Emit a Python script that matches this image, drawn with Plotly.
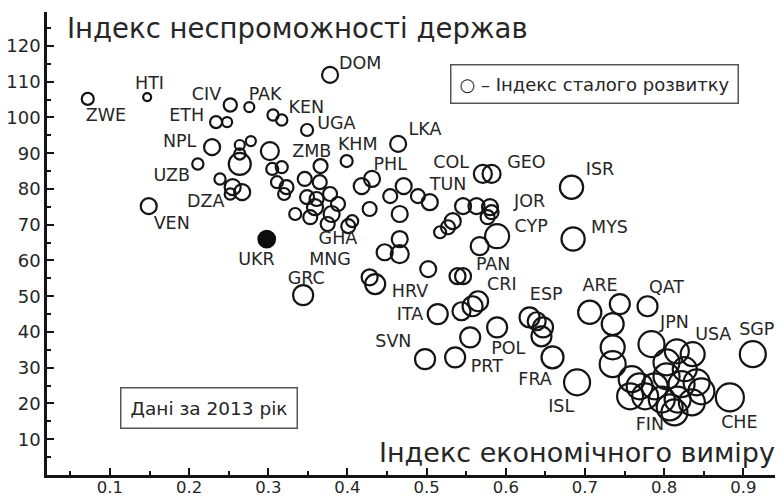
import plotly.graph_objects as go

# Economic dimension index (x), fragile states index (y), sustainable development index (bubble)
econ = [0.072, 0.147, 0.252, 0.276, 0.234, 0.248, 0.306, 0.317, 0.349, 0.378,
        0.229, 0.264, 0.278, 0.302, 0.211, 0.264, 0.264, 0.239, 0.255, 0.267,
        0.252, 0.149, 0.344, 0.305, 0.317, 0.311, 0.323, 0.320, 0.346, 0.366,
        0.365, 0.399, 0.349, 0.361, 0.378, 0.388, 0.359, 0.334, 0.353, 0.380,
        0.375, 0.401, 0.406, 0.418, 0.431, 0.428, 0.464, 0.454, 0.471, 0.489,
        0.504, 0.466, 0.571, 0.582, 0.683, 0.546, 0.563, 0.580, 0.582, 0.577,
        0.533, 0.527, 0.517, 0.589, 0.567, 0.685, 0.502, 0.466, 0.466, 0.447,
        0.539, 0.546, 0.428, 0.435, 0.565, 0.558, 0.544, 0.514, 0.589, 0.555,
        0.498, 0.536, 0.630, 0.639, 0.647, 0.645, 0.659, 0.690, 0.706, 0.744,
        0.779, 0.735, 0.735, 0.735, 0.784, 0.816, 0.836, 0.912, 0.883, 0.759,
        0.769, 0.757, 0.776, 0.803, 0.803, 0.826, 0.841, 0.847, 0.822, 0.817,
        0.807, 0.797, 0.788, 0.835, 0.813]
fragility = [105.2, 105.7, 103.5, 102.9, 98.7, 98.7, 100.7, 99.3, 96.5, 111.9,
             91.7, 92.3, 93.4, 90.6, 87.0, 87.0, 89.8, 82.8, 80.5, 79.1,
             78.6, 75.2, 50.3, 85.6, 86.1, 81.9, 80.5, 78.6, 82.8, 86.4,
             81.9, 87.8, 77.7, 77.2, 78.6, 75.8, 74.9, 73.0, 72.1, 73.0,
             70.2, 69.6, 71.0, 80.8, 82.8, 74.4, 92.6, 78.0, 80.8, 78.0,
             76.3, 73.0, 84.2, 84.2, 80.5, 75.2, 75.2, 74.9, 73.5, 72.1,
             71.0, 69.3, 67.9, 66.8, 64.0, 66.0, 57.6, 66.0, 61.8, 62.3,
             55.6, 55.6, 55.3, 53.4, 48.6, 47.2, 45.8, 45.0, 41.3, 38.5,
             32.4, 32.9, 44.1, 43.0, 41.3, 38.8, 32.9, 25.9, 45.5, 47.8,
             47.2, 42.2, 35.7, 31.0, 36.6, 34.6, 33.8, 33.8, 21.7, 26.8,
             24.8, 22.0, 22.0, 31.5, 27.6, 29.6, 25.9, 23.4, 25.4, 21.1,
             18.9, 21.1, 24.8, 20.3, 17.5]
sdi = [0.35, 0.25, 0.38, 0.30, 0.35, 0.30, 0.33, 0.33, 0.35, 0.45,
       0.45, 0.30, 0.30, 0.50, 0.33, 0.60, 0.33, 0.33, 0.45, 0.45,
       0.33, 0.45, 0.55, 0.35, 0.35, 0.35, 0.40, 0.35, 0.40, 0.40,
       0.40, 0.35, 0.40, 0.40, 0.40, 0.40, 0.45, 0.35, 0.40, 0.45,
       0.40, 0.40, 0.35, 0.45, 0.45, 0.40, 0.45, 0.40, 0.45, 0.40,
       0.45, 0.45, 0.50, 0.50, 0.63, 0.45, 0.45, 0.45, 0.40, 0.40,
       0.45, 0.40, 0.35, 0.65, 0.50, 0.63, 0.45, 0.45, 0.50, 0.45,
       0.45, 0.45, 0.45, 0.55, 0.55, 0.55, 0.50, 0.55, 0.55, 0.55,
       0.55, 0.55, 0.55, 0.50, 0.55, 0.55, 0.60, 0.70, 0.63, 0.55,
       0.55, 0.60, 0.65, 0.70, 0.70, 0.65, 0.65, 0.70, 0.75, 0.70,
       0.70, 0.70, 0.70, 0.70, 0.70, 0.65, 0.70, 0.70, 0.70, 0.70,
       0.70, 0.70, 0.70, 0.70, 0.70]

# Ukraine (highlighted)
ukr_econ = [0.298]
ukr_fragility = [66.0]
ukr_sdi = [0.47]

# Country code labels
label_names = ["DOM", "HTI", "ZWE", "CIV", "PAK", "KEN", "ETH", "UGA", "ZMB", "KHM",
               "LKA", "NPL", "UZB", "DZA", "VEN", "UKR", "GRC", "GHA", "MNG", "PHL",
               "COL", "GEO", "TUN", "ISR", "JOR", "CYP", "MYS", "PAN", "HRV", "CRI",
               "ITA", "ESP", "SVN", "POL", "PRT", "FRA", "ARE", "QAT", "JPN", "USA",
               "SGP", "ISL", "FIN", "CHE"]
label_x = [0.416, 0.150, 0.095, 0.222, 0.296, 0.348, 0.197, 0.386, 0.355, 0.413,
           0.498, 0.188, 0.178, 0.221, 0.178, 0.285, 0.348, 0.388, 0.378, 0.454,
           0.531, 0.626, 0.527, 0.719, 0.630, 0.632, 0.731, 0.584, 0.479, 0.595,
           0.479, 0.651, 0.458, 0.603, 0.576, 0.637, 0.719, 0.803, 0.813, 0.862,
           0.917, 0.670, 0.782, 0.895]
label_y = [114.7, 109.1, 100.1, 106.1, 106.1, 102.6, 100.1, 97.9, 90.3, 92.1,
           96.3, 92.9, 83.4, 76.2, 70.0, 59.9, 54.7, 65.9, 60.1, 86.5,
           87.0, 87.0, 80.9, 85.1, 76.2, 69.2, 69.0, 58.5, 51.0, 52.9,
           44.7, 50.1, 37.0, 35.2, 30.0, 26.3, 52.7, 52.0, 42.2, 38.9,
           40.3, 18.8, 13.9, 14.3]

y_title = "Індекс неспроможності держав"
x_title = "Індекс економічного виміру"
legend_text = "○ – Індекс сталого розвитку"
note_text = "Дані за 2013 рік"

FONT = "DejaVu Sans"
INK = "#141414"
TXT = "#262626"

fig = go.Figure()
fig.add_trace(go.Scatter(
    x=econ, y=fragility, mode="markers",
    marker=dict(size=[s * 40 - 2 for s in sdi], sizemode="diameter", opacity=1,
                color="rgba(0,0,0,0)", line=dict(color=INK, width=2.2)),
    showlegend=False, hoverinfo="skip"))
fig.add_trace(go.Scatter(
    x=ukr_econ, y=ukr_fragility, mode="markers",
    marker=dict(size=[s * 40 - 2 for s in ukr_sdi], color="#0d0d0d", opacity=1,
                line=dict(color="#0d0d0d", width=2)),
    showlegend=False, hoverinfo="skip"))
fig.add_trace(go.Scatter(
    x=label_x, y=label_y, mode="text", text=label_names,
    textposition="middle center",
    textfont=dict(family=FONT, size=17.5, color=TXT),
    showlegend=False, hoverinfo="skip"))

fig.update_layout(
    width=784, height=498,
    margin=dict(l=47, r=9, t=12, b=23),
    paper_bgcolor="white", plot_bgcolor="white",
    font=dict(family=FONT, color=TXT),
    xaxis=dict(range=[0.0205, 0.94], showgrid=False, zeroline=False,
               automargin=False,
               showline=True, linecolor=INK, linewidth=2.5,
               ticks="inside", ticklen=7, tickwidth=2, tickcolor=INK,
               tick0=0, dtick=0.1, tickformat=".1f",
               ticklabelstandoff=-5,
               tickfont=dict(family=FONT, size=16.5, color=TXT),
               minor=dict(ticks="inside", ticklen=4, tickwidth=1.5,
                          tickcolor=INK, tick0=0, dtick=0.05)),
    yaxis=dict(range=[0, 129.5], showgrid=False, zeroline=False,
               automargin=False,
               showline=True, linecolor=INK, linewidth=2.5,
               ticks="inside", ticklen=7, tickwidth=2, tickcolor=INK,
               tickvals=[10, 20, 30, 40, 50, 60, 70, 80, 90, 100, 110, 120],
               tickfont=dict(family=FONT, size=18, color=TXT),
               minor=dict(ticks="inside", ticklen=4, tickwidth=1.5,
                          tickcolor=INK,
                          tickvals=[5, 15, 25, 35, 45, 55, 65, 75, 85, 95, 105, 115, 125])),
    annotations=[
        dict(text=y_title, xref="paper", yref="paper", x=0.0247, y=0.965,
             xanchor="left", yanchor="middle", showarrow=False,
             font=dict(family=FONT, size=27.5, color=TXT)),
        dict(text=x_title, xref="paper", yref="paper", x=1.003, y=0.049,
             xanchor="right", yanchor="middle", showarrow=False,
             font=dict(family=FONT, size=27, color=TXT)),
        dict(text=legend_text, xref="paper", yref="paper", x=0.752, y=0.844,
             xanchor="center", yanchor="middle", showarrow=False,
             bordercolor="#555555", borderwidth=1.5, borderpad=8,
             font=dict(family=FONT, size=18, color=TXT)),
        dict(text=note_text, xref="paper", yref="paper", x=0.2225, y=0.145,
             xanchor="center", yanchor="middle", showarrow=False,
             bordercolor="#555555", borderwidth=1.5, borderpad=9,
             font=dict(family=FONT, size=18.5, color=TXT)),
    ],
)

fig.write_html("out.html",
               config={"displayModeBar": False},
               post_script="document.body.style.margin='0';document.body.style.overflow='hidden';")
